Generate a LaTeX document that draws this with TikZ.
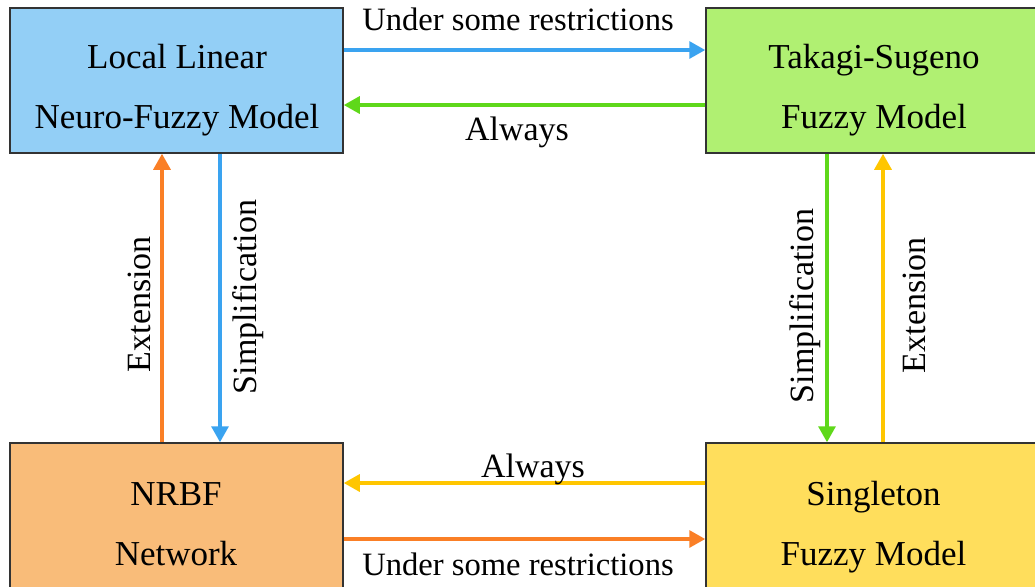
\documentclass[tikz,border=0pt]{standalone}
\usepackage{fontspec}
\setmainfont{Liberation Serif}
\usetikzlibrary{arrows.meta}

\definecolor{fillblue}{RGB}{147,207,246}
\definecolor{fillgreen}{RGB}{176,240,114}
\definecolor{fillorange}{RGB}{249,188,121}
\definecolor{fillyellow}{RGB}{255,222,92}
\definecolor{lineblue}{RGB}{58,163,240}
\definecolor{linegreen}{RGB}{95,216,26}
\definecolor{lineorange}{RGB}{250,127,38}
\definecolor{lineyellow}{RGB}{255,198,0}

\tikzset{
  modelbox/.style={draw=black!80, line width=0.75pt, rectangle, inner sep=0pt,
    minimum width=166.5pt, minimum height=72.5pt},
  boxtext/.style={font=\fontsize{17.5}{30}\selectfont, inner sep=0pt, anchor=base},
  edgetext/.style={font=\fontsize{17}{20}\selectfont, inner sep=0pt, anchor=base},
  longtext/.style={edgetext, font=\fontsize{16.3}{20}\selectfont},
  conn/.style={line width=1.6pt, -{Triangle[length=8pt,width=8.5pt]}},
}

\begin{document}
\begin{tikzpicture}[x=0.5pt, y=-0.5pt]
  \useasboundingbox (0,0) rectangle (1035,586);
  \clip (0,0) rectangle (1035,586);

  % model boxes
  \node[modelbox, fill=fillblue]   (llnf) at (176.5,80.5)  {};
  \node[modelbox, fill=fillgreen]  (ts)   at (872.5,80.5)  {};
  \node[modelbox, fill=fillorange] (nrbf) at (176.5,515.5) {};
  \node[modelbox, fill=fillyellow] (sfm)  at (872.5,515.5) {};

  % box titles
  \node[boxtext] (llnf-a) at (177,68)   {Local Linear};
  \node[boxtext] (llnf-b) at (177,128)  {Neuro-Fuzzy Model};
  \node[boxtext] (ts-a)   at (874,68)   {Takagi-Sugeno};
  \node[boxtext] (ts-b)   at (874,128)  {Fuzzy Model};
  \node[boxtext] (nrbf-a) at (176,505.5){NRBF};
  \node[boxtext] (nrbf-b) at (176,565)  {Network};
  \node[boxtext] (sfm-a)  at (873.5,505){Singleton};
  \node[boxtext] (sfm-b)  at (873.5,565){Fuzzy Model};

  % horizontal connectors
  \draw[conn, lineblue]   ([yshift=15.25pt]llnf.east) -- ([yshift=15.25pt]ts.west);
  \draw[conn, linegreen]  ([yshift=-12.25pt]ts.west) -- ([yshift=-12.25pt]llnf.east);
  \draw[conn, lineyellow] ([yshift=16.25pt]sfm.west) -- ([yshift=16.25pt]nrbf.east);
  \draw[conn, lineorange] ([yshift=-11.75pt]nrbf.east) -- ([yshift=-11.75pt]sfm.west);

  % vertical connectors
  \draw[conn, lineorange] ([xshift=-7.25pt]nrbf.north) -- ([xshift=-7.25pt]llnf.south);
  \draw[conn, lineblue]   ([xshift=21.75pt]llnf.south) -- ([xshift=21.75pt]nrbf.north);
  \draw[conn, linegreen]  ([xshift=-22.75pt]ts.south) -- ([xshift=-22.75pt]sfm.north);
  \draw[conn, lineyellow] ([xshift=5.25pt]sfm.north) -- ([xshift=5.25pt]ts.south);

  % connector labels
  \node[longtext] (lab-top-u) at (518,30)  {Under some restrictions};
  \node[edgetext] (lab-top-a) at (517,140) {Always};
  \node[edgetext] (lab-bot-a) at (533,477) {Always};
  \node[longtext] (lab-bot-u) at (518,575) {Under some restrictions};

  \node[edgetext, rotate=90] (lab-l-ext) at (150,304) {Extension};
  \node[edgetext, rotate=90] (lab-l-sim) at (256,297) {Simplification};
  \node[edgetext, rotate=90] (lab-r-sim) at (813,306) {Simplification};
  \node[edgetext, rotate=90] (lab-r-ext) at (925,305) {Extension};
\end{tikzpicture}
\end{document}
